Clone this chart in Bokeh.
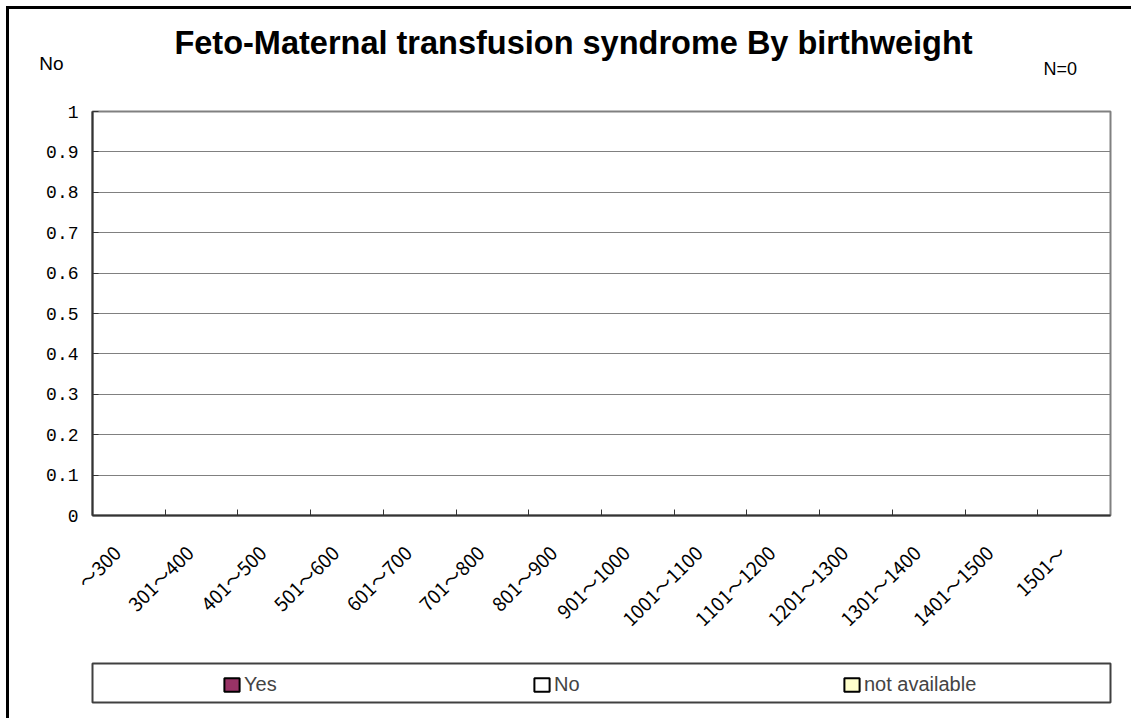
import math
from bokeh.plotting import figure
from bokeh.layouts import column
from bokeh.models import (Range1d, FactorRange, LinearAxis, FixedTicker,
                          Legend, LegendItem, Label, ColumnDataSource)
from bokeh.embed import file_html
from bokeh.resources import INLINE

# ---- data ----
categories = ["～300", "301～400", "401～500", "501～600", "601～700", "701～800", "801～900",
              "901～1000", "1001～1100", "1101～1200", "1201～1300", "1301～1400", "1401～1500", "1501～"]
yes = [0, 0, 0, 0, 0, 0, 0, 0, 0, 0, 0, 0, 0, 0]
no = [0, 0, 0, 0, 0, 0, 0, 0, 0, 0, 0, 0, 0, 0]
not_available = [0, 0, 0, 0, 0, 0, 0, 0, 0, 0, 0, 0, 0, 0]
series = ["Yes", "No", "not available"]
series_colors = ["#993366", "#FFFFFF", "#FFFFCC"]
y_ticks = [0, 0.1, 0.2, 0.3, 0.4, 0.5, 0.6, 0.7, 0.8, 0.9, 1]
y_tick_labels = ["0", "0.1", "0.2", "0.3", "0.4", "0.5", "0.6", "0.7", "0.8", "0.9", "1"]
title_text = "Feto-Maternal transfusion syndrome By birthweight"
left_note = "No"
right_note = "N=0"

src = ColumnDataSource(dict(cat=categories, yes=yes, no=no, na=not_available))
stack_cols = ["yes", "no", "na"]

W = 1122

# ---------- top strip: title and notes ----------
top = figure(width=W, height=90, x_range=Range1d(0, 1), y_range=Range1d(0, 1),
             output_backend="svg", toolbar_location=None,
             x_axis_location=None, y_axis_location="left",
             min_border_left=83, min_border_right=21, min_border_top=18, min_border_bottom=0)
top.outline_line_color = None
top.grid.visible = False
top.border_fill_color = "white"
tax = top.yaxis[0]
tax.ticker = FixedTicker(ticks=[])
tax.axis_line_color = None
tax.major_tick_line_color = None
tax.minor_tick_line_color = None
tax.major_tick_out = 0
tax.minor_tick_out = 0
tax.major_label_standoff = 0
tax.axis_label = left_note
tax.axis_label_orientation = "horizontal"
tax.axis_label_standoff = 29
tax.axis_label_text_font = "Liberation Sans"
tax.axis_label_text_font_style = "normal"
tax.axis_label_text_font_size = "19px"
tax.axis_label_text_color = "black"
top.add_layout(Label(x=481, y=57, x_units="screen", y_units="screen", text=title_text,
                     text_align="center", text_baseline="alphabetic",
                     text_font="Liberation Sans", text_font_style="bold",
                     text_font_size="32.5px", text_color="black"))
top.add_layout(Label(x=951, y=31, x_units="screen", y_units="screen", text=right_note,
                     text_align="left", text_baseline="alphabetic",
                     text_font="Liberation Sans", text_font_size="18px", text_color="black"))

# ---------- main chart ----------
p = figure(width=W, height=556,
           x_range=FactorRange(factors=categories), y_range=Range1d(0, 1),
           output_backend="svg", toolbar_location=None,
           x_axis_location=None, y_axis_location="left",
           min_border_left=83, min_border_right=21, min_border_top=12, min_border_bottom=140)
p.background_fill_color = "white"
p.border_fill_color = "white"
p.outline_line_color = "#808080"
p.outline_line_width = 2
p.xgrid.visible = False

renderers = p.vbar_stack(stack_cols, x="cat", width=0.5, color=series_colors,
                         line_color="black", line_width=1, source=src)

yax = p.yaxis[0]
yax.ticker = FixedTicker(ticks=y_ticks)
yax.major_label_overrides = dict(zip(y_ticks, y_tick_labels))
yax.major_tick_in = 6
yax.major_tick_out = 0
yax.minor_tick_line_color = None
yax.major_tick_line_color = "#333333"
yax.axis_line_color = "#333333"
yax.axis_line_width = 2
yax.major_label_standoff = 14
yax.major_label_text_font = "Liberation Mono"
yax.major_label_text_font_size = "18px"
yax.major_label_text_color = "black"

p.ygrid.ticker = FixedTicker(ticks=y_ticks)
p.ygrid.grid_line_color = "#808080"
p.ygrid.grid_line_width = 1

# tick marks at the category boundaries
edge_ticks = list(range(1, len(categories)))
tick_axis = LinearAxis(ticker=FixedTicker(ticks=edge_ticks),
                       major_label_overrides={t: "" for t in edge_ticks},
                       major_tick_in=6, major_tick_out=0, minor_tick_line_color=None,
                       major_tick_line_color="#333333", axis_line_color="#333333",
                       axis_line_width=2, major_label_text_font_size="1px",
                       major_label_standoff=0)
p.add_layout(tick_axis, "below")

# category labels (slightly left of the category centres, as in the original)
label_ticks = [i + 0.33 for i in range(len(categories))]
label_axis = LinearAxis(ticker=FixedTicker(ticks=label_ticks),
                        major_label_overrides=dict(zip(label_ticks, categories)),
                        major_tick_line_color=None, minor_tick_line_color=None,
                        axis_line_color=None,
                        major_label_orientation=math.pi / 4, major_label_standoff=27,
                        major_label_text_font="Noto Sans CJK JP",
                        major_label_text_font_size="19px", major_label_text_color="black")
p.add_layout(label_axis, "below")

# ---------- legend strip ----------
leg = figure(width=W, height=63, x_range=FactorRange(factors=categories), y_range=Range1d(1, 2),
             output_backend="svg", toolbar_location=None,
             x_axis_location=None, y_axis_location=None,
             min_border_left=83, min_border_right=21, min_border_top=8, min_border_bottom=16)
leg.grid.visible = False
leg.border_fill_color = "white"
leg.outline_line_color = "#404040"
leg.outline_line_width = 2
leg_renderers = leg.vbar_stack(stack_cols, x="cat", width=0.5, color=series_colors,
                               line_color="black", line_width=2, source=src, visible=False)
legend = Legend(items=[LegendItem(label=s, renderers=[r]) for s, r in zip(series, leg_renderers)],
                orientation="horizontal", location=(130, 6), padding=0, margin=0,
                spacing=188, glyph_width=19, glyph_height=17, label_standoff=3,
                label_width=100, label_height=24, label_text_font="Liberation Sans",
                label_text_font_size="20px", border_line_color=None,
                background_fill_alpha=0, inactive_fill_alpha=0)
leg.add_layout(legend)

layout = column(top, p, leg, spacing=0)
layout.styles = {"margin": "6px 0px 0px 6px",
                 "border-left": "3px solid black", "border-top": "3px solid black"}

open("out.html", "w").write(file_html(layout, INLINE))
